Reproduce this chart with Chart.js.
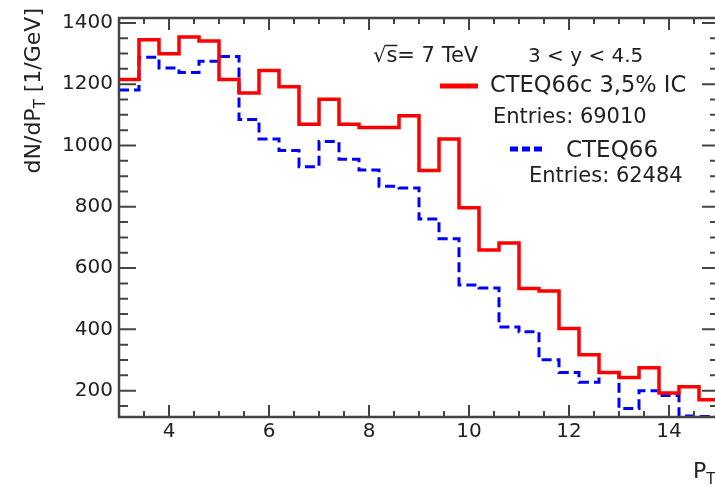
<!DOCTYPE html>
<html>
<head>
<meta charset="utf-8">
<script src="https://cdn.jsdelivr.net/npm/chart.js@4.4.1/dist/chart.umd.min.js"></script>
<style>
html, body { margin: 0; padding: 0; background: #fff; overflow: hidden; }
canvas { display: block; }
</style>
</head>
<body>
<canvas id="myChart" width="730" height="487"></canvas>
<script>
// histogram binning (GeV)
const binLow = 3;
const binWidth = 0.4;

// dN/dPT per bin
const icValues = [1215, 1345, 1299, 1354, 1341, 1215, 1171, 1245, 1192, 1069,
	1151, 1069, 1059, 1059, 1097, 918, 1021, 797, 659, 682,
	533, 525, 403, 317, 259, 243, 275, 192, 213, 170];
const noIcValues = [1181, 1288, 1253, 1238, 1275, 1290, 1085, 1021, 984, 931,
	1013, 955, 920, 867, 861, 760, 696, 545, 535, 408,
	392, 301, 259, 227, 259, 142, 200, 184, 117, 116];

const seriesNames = ['CTEQ66c 3,5% IC', 'CTEQ66'];
const entries = [69010, 62484];

const xTicks = [4, 6, 8, 10, 12, 14];
const yTicks = [200, 400, 600, 800, 1000, 1200, 1400];

const FONT = '"DejaVu Sans", sans-serif';
const INK = '#222';

function histPoints(values) {
	const pts = values.map((v, i) => ({ x: binLow + i * binWidth, y: v }));
	pts.push({ x: binLow + values.length * binWidth, y: values[values.length - 1] });
	return pts;
}

function minorTicks(majors, ndiv, lo, hi) {
	const big = majors[1] - majors[0];
	const step = big / ndiv;
	const out = [];
	for (let k = Math.ceil(lo / step); k * step <= hi; k++) {
		const v = k * step;
		if (Math.abs(v / big - Math.round(v / big)) > 1e-6) out.push(v);
	}
	return out;
}

// ROOT style frame: ticks on all four sides, pointing inwards
const rootFrame = {
	id: 'rootFrame',
	afterDatasetsDraw(chart) {
		const { ctx, chartArea: a, scales } = chart;
		const sx = scales.x, sy = scales.y;
		ctx.save();
		ctx.strokeStyle = '#444';
		ctx.lineWidth = 2;
		ctx.beginPath();
		const xm = [...xTicks.map(v => [v, 12]), ...minorTicks(xTicks, 4, sx.min, sx.max).map(v => [v, 6])];
		xm.forEach(([v, len]) => {
			const px = sx.getPixelForValue(v);
			ctx.moveTo(px, a.bottom); ctx.lineTo(px, a.bottom - len);
			ctx.moveTo(px, a.top); ctx.lineTo(px, a.top + len);
		});
		const ym = [...yTicks.map(v => [v, 17]), ...minorTicks(yTicks, 4, sy.min, sy.max).map(v => [v, 9])];
		ym.forEach(([v, len]) => {
			const py = sy.getPixelForValue(v);
			ctx.moveTo(a.left, py); ctx.lineTo(a.left + len, py);
			ctx.moveTo(a.right, py); ctx.lineTo(a.right - len, py);
		});
		ctx.stroke();
		ctx.lineWidth = 2.5;
		ctx.strokeRect(a.left, a.top, a.right - a.left, a.bottom - a.top);
		ctx.restore();
	},
	afterDraw(chart) {
		const ctx = chart.ctx;
		const text = (s, x, y, size) => {
			ctx.font = size + 'px ' + FONT;
			ctx.fillText(s, x, y);
			return ctx.measureText(s).width;
		};
		ctx.save();
		ctx.fillStyle = INK;
		ctx.textBaseline = 'alphabetic';
		ctx.textAlign = 'left';

		// sqrt(s) = 7 TeV
		let x = 373;
		x += text('\u221A', x, 62, 21);
		const sw = text('s', x, 62, 21);
		ctx.strokeStyle = INK;
		ctx.lineWidth = 1.5;
		ctx.beginPath();
		ctx.moveTo(x - 1, 45.5); ctx.lineTo(x + sw, 45.5);
		ctx.stroke();
		text('= 7 TeV', x + sw, 62, 21);
		text('3 < y < 4.5', 528, 62, 20);

		// legend
		ctx.lineWidth = 5;
		ctx.strokeStyle = '#ff0000';
		ctx.beginPath(); ctx.moveTo(440, 86); ctx.lineTo(478, 86); ctx.stroke();
		text(seriesNames[0], 490, 92, 22.5);
		text('Entries: ' + entries[0], 493, 123, 21);
		ctx.strokeStyle = '#0000ff';
		ctx.setLineDash([8, 4]);
		ctx.beginPath(); ctx.moveTo(510, 149); ctx.lineTo(545, 149); ctx.stroke();
		ctx.setLineDash([]);
		text(seriesNames[1], 566, 157, 23);
		text('Entries: ' + entries[1], 529, 182, 21);

		// x title
		x = 693;
		x += text('P', x, 478, 22);
		text('T', x, 484, 15);

		// y title, rotated, ending near the top of the frame
		const parts = [['dN/dP', 22, 0], ['T', 15, 5], [' [1/GeV]', 22, 0]];
		let total = 0;
		parts.forEach(([s, size]) => { ctx.font = size + 'px ' + FONT; total += ctx.measureText(s).width; });
		ctx.translate(40, 8 + total);
		ctx.rotate(-Math.PI / 2);
		let tx = 0;
		parts.forEach(([s, size, dy]) => { tx += text(s, tx, dy, size); });
		ctx.restore();
	}
};

document.addEventListener('DOMContentLoaded', () => {
	const ctx = document.getElementById('myChart');

	new Chart(ctx, {
		type: 'line',
		data: {
			datasets: [
				{
					label: seriesNames[0],
					data: histPoints(icValues),
					borderColor: '#ff0000',
					borderWidth: 3.5,
					stepped: 'before',
					pointRadius: 0,
					fill: false,
					borderJoinStyle: 'miter',
				},
				{
					label: seriesNames[1],
					data: histPoints(noIcValues),
					borderColor: '#0000ff',
					borderWidth: 3,
					borderDash: [10, 5],
					stepped: 'before',
					pointRadius: 0,
					fill: false,
					borderJoinStyle: 'miter',
					clip: 4,
				},
			],
		},
		options: {
			responsive: false,
			animation: false,
			devicePixelRatio: 1,
			layout: { padding: { top: 10, right: 11, left: 0, bottom: 0 } },
			plugins: {
				legend: { display: false },
				tooltip: { enabled: false },
			},
			scales: {
				x: {
					type: 'linear',
					min: 3,
					max: 15,
					grid: { display: false, drawTicks: false },
					border: { display: false },
					afterBuildTicks: (s) => { s.ticks = xTicks.map(v => ({ value: v })); },
					afterFit: (s) => { s.height = 70; },
					ticks: {
						padding: 3,
						color: INK,
						font: { family: FONT, size: 20 },
						maxRotation: 0,
						callback: (v) => String(v),
					},
				},
				y: {
					type: 'linear',
					min: 114,
					max: 1416,
					grid: { display: false, drawTicks: false },
					border: { display: false },
					afterBuildTicks: (s) => { s.ticks = yTicks.map(v => ({ value: v })); },
					afterFit: (s) => { s.width = 119; },
					ticks: {
						padding: 6,
						color: INK,
						font: { family: FONT, size: 20 },
						callback: (v) => String(v),
					},
				},
			},
		},
		plugins: [rootFrame],
	});
});
</script>
</body>
</html>
